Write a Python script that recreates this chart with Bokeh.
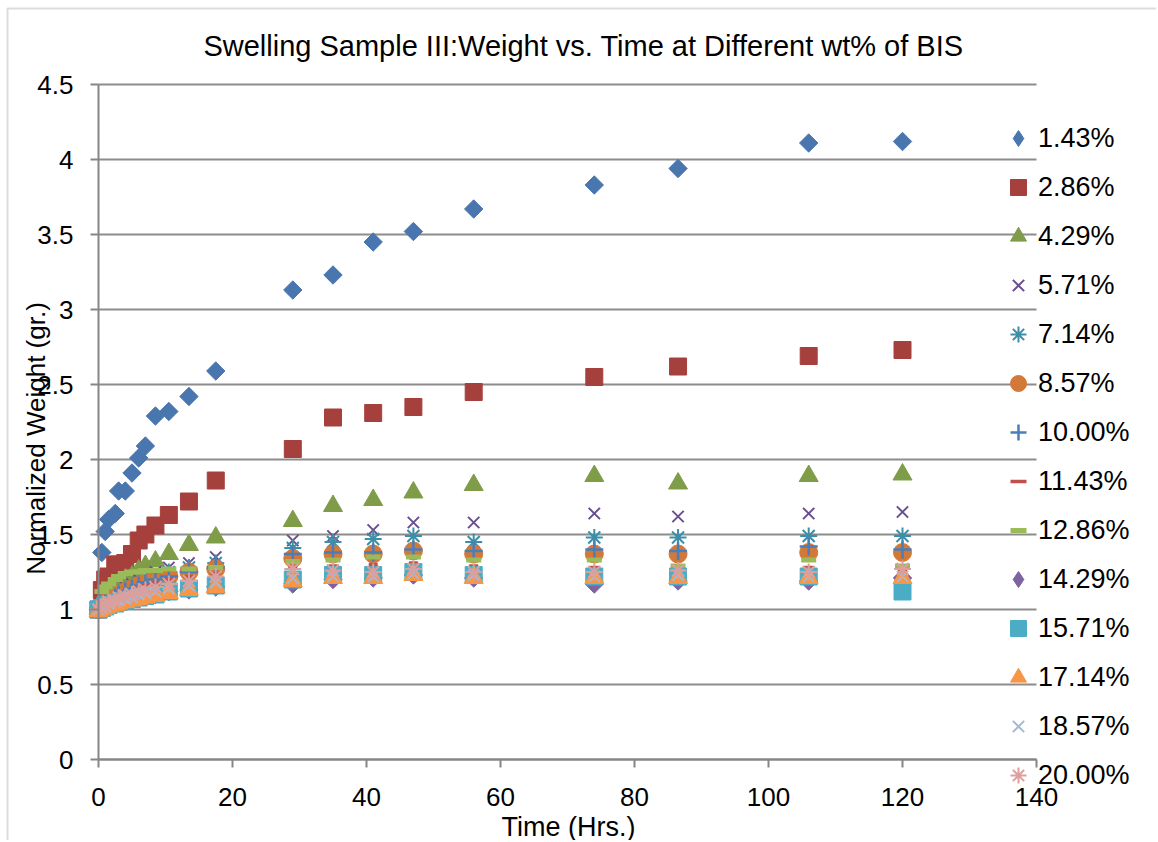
import numpy as np
from bokeh.plotting import figure
from bokeh.models import (Range1d, FixedTicker, CustomJSTickFormatter, Label,
                          Legend, LegendItem, PolyAnnotation)
from bokeh.embed import file_html
from bokeh.resources import INLINE

# ---------------- data ----------------
time_hrs = [0, 0.5, 1, 1.5, 2.5, 3, 4, 5, 6, 7, 8.5, 10.5, 13.5, 17.5,
            29, 35, 41, 47, 56, 74, 86.5, 106, 120]

bis_labels = ["1.43%", "2.86%", "4.29%", "5.71%", "7.14%", "8.57%", "10.00%",
              "11.43%", "12.86%", "14.29%", "15.71%", "17.14%", "18.57%", "20.00%"]

w_1_43 = [1.00, 1.38, 1.52, 1.60, 1.64, 1.79, 1.79, 1.91, 2.01, 2.09, 2.29, 2.32, 2.42, 2.59,
          3.13, 3.23, 3.45, 3.52, 3.67, 3.83, 3.94, 4.11, 4.12]
w_2_86 = [1.00, 1.13, 1.20, 1.22, 1.30, 1.30, 1.31, 1.37, 1.46, 1.50, 1.56, 1.63, 1.72, 1.86,
          2.07, 2.28, 2.31, 2.35, 2.45, 2.55, 2.62, 2.69, 2.73]
w_4_29 = [1.00, 1.06, 1.10, 1.12, 1.15, 1.17, 1.20, 1.22, 1.26, 1.29, 1.32, 1.37, 1.43, 1.48,
          1.59, 1.69, 1.73, 1.78, 1.83, 1.89, 1.84, 1.89, 1.90]
w_5_71 = [1.00, 1.03, 1.06, 1.08, 1.10, 1.12, 1.15, 1.17, 1.20, 1.23, 1.25, 1.28, 1.31, 1.35,
          1.46, 1.49, 1.53, 1.58, 1.58, 1.64, 1.62, 1.64, 1.65]
w_7_14 = [1.00, 1.03, 1.05, 1.07, 1.09, 1.11, 1.13, 1.15, 1.18, 1.20, 1.22, 1.25, 1.28, 1.31,
          1.41, 1.45, 1.47, 1.49, 1.45, 1.48, 1.48, 1.49, 1.49]
w_8_57 = [1.00, 1.02, 1.04, 1.06, 1.08, 1.10, 1.12, 1.14, 1.16, 1.18, 1.20, 1.22, 1.25, 1.27,
          1.34, 1.37, 1.37, 1.39, 1.37, 1.37, 1.37, 1.38, 1.38]
w_10_00 = [1.00, 1.02, 1.04, 1.06, 1.08, 1.10, 1.12, 1.14, 1.16, 1.18, 1.20, 1.22, 1.25, 1.28,
           1.37, 1.38, 1.38, 1.40, 1.39, 1.40, 1.39, 1.42, 1.40]
w_11_43 = [1.00, 1.02, 1.04, 1.05, 1.07, 1.09, 1.10, 1.12, 1.14, 1.16, 1.18, 1.20, 1.22, 1.24,
           1.28, 1.29, 1.30, 1.31, 1.29, 1.28, 1.29, 1.28, 1.26]
w_12_86 = [1.00, 1.12, 1.15, 1.17, 1.20, 1.22, 1.24, 1.25, 1.25, 1.26, 1.26, 1.27, 1.27, 1.28,
           1.32, 1.33, 1.35, 1.35, 1.33, 1.33, 1.29, 1.33, 1.29]
w_14_29 = [1.00, 1.01, 1.02, 1.03, 1.04, 1.05, 1.06, 1.07, 1.08, 1.09, 1.10, 1.12, 1.13, 1.15,
           1.17, 1.20, 1.21, 1.23, 1.21, 1.17, 1.19, 1.19, 1.21]
w_15_71 = [1.00, 1.01, 1.02, 1.03, 1.04, 1.05, 1.06, 1.07, 1.08, 1.09, 1.10, 1.12, 1.14, 1.16,
           1.20, 1.23, 1.23, 1.25, 1.23, 1.22, 1.22, 1.22, 1.12]
w_17_14 = [0.99, 1.00, 1.01, 1.02, 1.03, 1.04, 1.05, 1.06, 1.07, 1.08, 1.09, 1.11, 1.13, 1.15,
           1.19, 1.21, 1.21, 1.23, 1.21, 1.21, 1.21, 1.21, 1.21]
w_18_57 = [1.00, 1.01, 1.02, 1.04, 1.05, 1.06, 1.07, 1.08, 1.10, 1.11, 1.12, 1.14, 1.16, 1.18,
           1.21, 1.22, 1.22, 1.24, 1.23, 1.22, 1.23, 1.22, 1.22]
w_20_00 = [1.00, 1.02, 1.03, 1.05, 1.06, 1.08, 1.09, 1.10, 1.12, 1.13, 1.15, 1.17, 1.19, 1.22,
           1.27, 1.26, 1.25, 1.27, 1.25, 1.25, 1.26, 1.25, 1.27]

x_ticks = [0, 20, 40, 60, 80, 100, 120, 140]
y_ticks = [0, 0.5, 1, 1.5, 2, 2.5, 3, 3.5, 4, 4.5]

series_values = [w_1_43, w_2_86, w_4_29, w_5_71, w_7_14, w_8_57, w_10_00,
                 w_11_43, w_12_86, w_14_29, w_15_71, w_17_14, w_18_57, w_20_00]

# marker styles: (marker, size, colour, line_width, angle, filled, legend marker)
styles = [
    ("square",   13, "#4A76B0", 1, np.pi / 4, True, "diamond"),
    ("square",   17, "#A6403D", 1, 0, True, None),
    ("triangle", 19, "#7F9C48", 1, 0, True, None),
    ("x",        16, "#6A4F8F", 2, 0, False, None),
    ("asterisk", 17, "#3B8FA8", 2, 0, False, None),
    ("circle",   18, "#D2793A", 1, 0, True, None),
    ("cross",    18, "#4A7EBB", 2.5, 0, False, None),
    ("dash",     9,  "#C0504D", 3.5, 0, False, None),
    ("dash",     15, "#9BBB59", 5, 0, False, None),
    ("square",   13, "#7E62A1", 1, np.pi / 4, True, "diamond"),
    ("square",   17, "#4BACC6", 1, 0, True, None),
    ("triangle", 19, "#F79646", 1, 0, True, None),
    ("x",        16, "#A5B9D8", 2, 0, False, None),
    ("asterisk", 17, "#D9A09E", 2, 0, False, None),
]

FONT = "Liberation Sans"
W, H = 1156, 840
X0_PX, Y0_PX = 98, 759            # pixel position of the data origin
PX_X = 938 / 140.0                # pixels per hour
PX_Y = 675 / 4.5                  # pixels per weight unit

p = figure(width=W, height=H,
           x_range=Range1d(-X0_PX / PX_X, (W - X0_PX) / PX_X),
           y_range=Range1d(-(H - Y0_PX) / PX_Y, Y0_PX / PX_Y),
           min_border=0, min_border_left=0, min_border_right=0,
           min_border_top=0, min_border_bottom=0,
           output_backend="svg", toolbar_location=None, tools="")
p.outline_line_color = None
p.background_fill_color = "white"
p.border_fill_color = "white"

# grid
p.xgrid.visible = False
p.ygrid.grid_line_color = "#8C8C8C"
p.ygrid.grid_line_width = 2
p.ygrid.ticker = FixedTicker(ticks=y_ticks)
p.ygrid.bounds = (0, 4.5)
p.ygrid.cross_bounds = (0, 140)

fmt = CustomJSTickFormatter(code="return String(tick);")
for ax, ticks, bnd in ((p.xaxis[0], x_ticks, (0, 140)), (p.yaxis[0], y_ticks, (0, 4.5))):
    ax.ticker = FixedTicker(ticks=ticks)
    ax.formatter = fmt
    ax.fixed_location = 0
    ax.bounds = bnd
    ax.axis_line_color = "#868686"
    ax.axis_line_width = 2
    ax.major_tick_line_color = "#868686"
    ax.major_tick_line_width = 2
    ax.major_tick_out = 8
    ax.major_tick_in = 0
    ax.minor_tick_line_color = None
    ax.major_label_text_font = FONT
    ax.major_label_text_font_size = "26px"
    ax.major_label_text_color = "black"
p.yaxis[0].major_label_standoff = 17
p.xaxis[0].major_label_standoff = 20

items = []
for name, vals, (mk, sz, col, lw, ang, filled, leg_mk) in zip(bis_labels, series_values, styles):
    leg_r = None
    if leg_mk is not None:
        # same points as a small diamond hidden beneath the rotated square;
        # it supplies the legend swatch (legends draw markers un-rotated)
        leg_r = p.scatter(time_hrs, vals, marker=leg_mk, size=sz - 2,
                          fill_color=col, line_color=col, line_width=lw)
    r = p.scatter(time_hrs, vals, marker=mk, size=sz, angle=ang,
                  fill_color=col if filled else None,
                  line_color=col, line_width=lw)
    items.append(LegendItem(label=name, renderers=[leg_r if leg_r is not None else r]))

legend = Legend(items=items, location=(998, 45),
                glyph_width=40, glyph_height=40, label_height=40, spacing=9,
                padding=0, margin=0, label_standoff=0,
                border_line_color=None, background_fill_alpha=0,
                label_text_font=FONT, label_text_font_size="27px",
                label_text_color="black")
p.add_layout(legend, "center")

# titles as real text labels (screen units from the canvas bottom-left)
p.add_layout(Label(x=583, y=H - 45, x_units="screen", y_units="screen",
                   text="Swelling Sample III:Weight vs. Time at Different wt% of BIS",
                   text_font=FONT, text_font_size="29px", text_color="black",
                   text_align="center", text_baseline="middle"))
p.add_layout(Label(x=35, y=H - 438, x_units="screen", y_units="screen",
                   text="Normalized Weight (gr.)", angle=np.pi / 2,
                   text_font=FONT, text_font_size="26px", text_color="black",
                   text_align="center", text_baseline="middle"))
p.add_layout(Label(x=568, y=H - 826, x_units="screen", y_units="screen",
                   text="Time (Hrs.)",
                   text_font=FONT, text_font_size="27px", text_color="black",
                   text_align="center", text_baseline="middle"))

# chart-area border (left and top edges)
p.add_layout(PolyAnnotation(xs=[7, 7, 3000, 3000], ys=[-100, H - 8, H - 8, -100],
                            xs_units="screen", ys_units="screen",
                            fill_alpha=0, line_color="#8A8A8A", line_width=2))

open("out.html", "w").write(file_html(p, INLINE))
